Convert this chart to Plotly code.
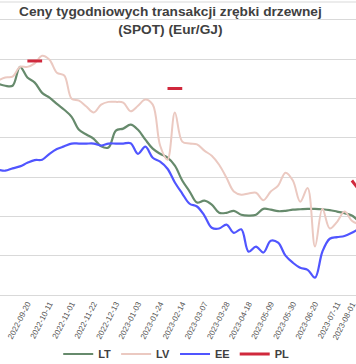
import plotly.graph_objects as go
import pandas as pd

# weekly dates (categories)
dates = pd.date_range("2022-08-23", periods=50, freq="7D")

LT = [9.37, 9.32, 9.32, 9.80, 9.53, 9.40, 9.14, 9.02, 8.86, 8.71, 8.53, 8.20, 8.08, 7.97, 7.78, 7.75,
      8.18, 8.23, 8.33, 8.20, 7.95, 7.72, 7.59, 7.49, 7.29, 6.91, 6.63, 6.35, 6.40, 6.30, 6.09, 6.09,
      6.14, 6.04, 6.02, 6.04, 6.19, 6.17, 6.13, 6.14, 6.17, 6.18, 6.19, 6.19, 6.18, 6.16, 6.12, 6.08,
      6.02, 5.86]
LV = [9.45, 9.53, 9.55, 9.80, 9.80, 9.89, 10.08, 9.98, 9.65, 9.58, 8.99, 8.94, 8.79, 8.64, 8.84, 8.91,
      8.91, 8.89, 8.67, 8.81, 8.97, 8.84, 7.80, 7.44, 8.64, 7.90, 7.85, 7.83, 7.67, 7.54, 7.31, 6.98,
      6.63, 6.55, 6.58, 6.60, 6.41, 6.63, 6.78, 7.11, 6.91, 6.37, 6.72, 5.23, 6.19, 5.69, 5.86, 6.12,
      5.89, 5.79]
EE = [7.19, 7.16, 7.22, 7.27, 7.36, 7.43, 7.44, 7.59, 7.71, 7.78, 7.85, 7.85, 7.85, 7.85, 7.80, 7.85,
      7.85, 7.85, 7.86, 7.59, 7.77, 7.49, 7.39, 7.21, 6.86, 6.58, 6.32, 6.25, 6.02, 5.71, 5.69, 5.79,
      5.58, 5.67, 5.10, 5.23, 5.08, 5.38, 5.33, 5.00, 4.82, 4.69, 4.64, 4.44, 5.10, 5.43, 5.47, 5.50,
      5.58, 5.69]
PL = [None, None, None, None, 9.95, 9.95, 9.95, None, None, None, None, None, None, None, None, None,
      None, None, None, None, None, None, None, 9.25, 9.25, 9.25, None, None, None, None, None, None,
      None, None, None, None, None, None, None, None, None, None, None, None, None, None, None, None,
      6.91, 6.67]

series = [("LT", LT, "#668a6c", 2.2), ("LV", LV, "#ebc9c1", 2.0),
          ("EE", EE, "#5055ff", 2.2), ("PL", PL, "#d0283c", 3.0)]

FONT = "Liberation Sans, Arial, sans-serif"

fig = go.Figure()
for name, vals, color, w in series:
    fig.add_trace(go.Scatter(x=dates, y=vals, name="<b>" + name + "</b>", mode="lines",
                             line=dict(color=color, width=w, shape="spline", smoothing=1.0),
                             connectgaps=False))

base = pd.Timestamp("2022-08-30")
x0 = base + pd.Timedelta(weeks=-0.712)
x1 = base + pd.Timedelta(weeks=47.56)

fig.update_layout(
    width=356, height=364,
    margin=dict(l=0, r=0, t=0, b=69, pad=0),
    paper_bgcolor="white", plot_bgcolor="white",
    font=dict(family=FONT, color="#595959"),
    showlegend=True,
    legend=dict(orientation="h", x=0.495, xanchor="center", y=1-354/364, yanchor="middle",
                yref="container", font=dict(family=FONT, size=11, color="#404040"),
                bgcolor="rgba(0,0,0,0)"),
    xaxis=dict(type="date", range=[x0, x1], tick0="2022-08-30", dtick=21*86400000,
               tickformat="%Y-%m-%d", tickangle=-63, tickfont=dict(size=8, color="#595959"),
               showgrid=False, showline=True, linecolor="#d9d9d9", linewidth=1,
               ticks="", zeroline=False, automargin=False),
    yaxis=dict(range=[4, 11.5], tick0=4, dtick=1, showticklabels=False,
               showgrid=True, gridcolor="#d9d9d9", gridwidth=1, zeroline=False,
               showline=False, automargin=False),
    shapes=[dict(type="line", xref="paper", yref="paper", x0=0, x1=1, y0=1-2/295, y1=1-2/295,
                 line=dict(color="#d9d9d9", width=1), layer="below")],
    annotations=[
        dict(text="<b>Ceny tygodniowych transakcji zrębki drzewnej<br>(SPOT) (Eur/GJ)</b>",
             xref="paper", yref="paper", x=170/356, y=1-2/295, xanchor="center", yanchor="top",
             showarrow=False, align="center",
             font=dict(family=FONT, size=13.7, color="#404040")),
        dict(text="2023-08-01", xref="paper", yref="paper", x=361/356, y=0,
             xanchor="right", yanchor="top", yshift=-3, textangle=-63, showarrow=False,
             font=dict(family=FONT, size=8, color="#595959")),
    ],
)

fig.write_html("out.html", config={"displayModeBar": False},
               post_script="document.body.style.margin='0';document.body.style.overflow='hidden';")
